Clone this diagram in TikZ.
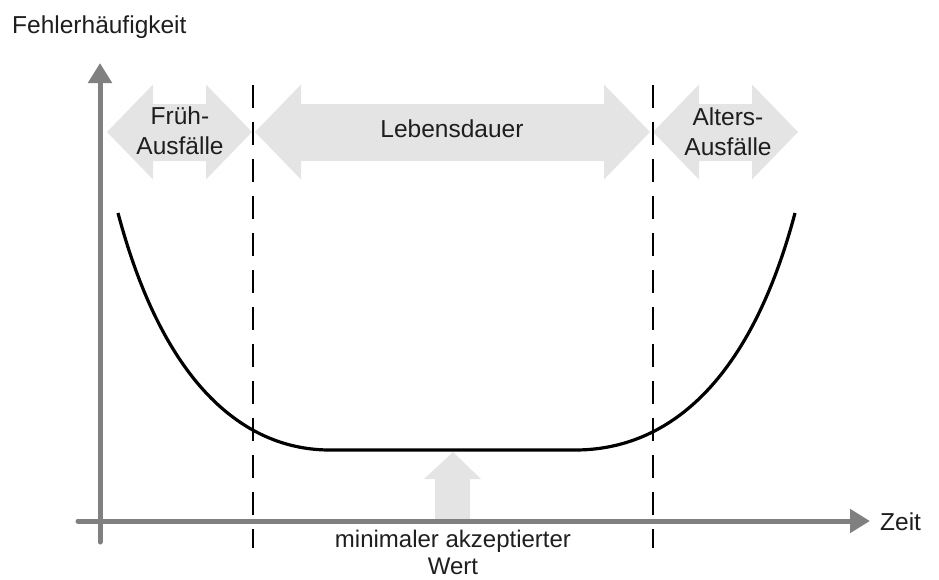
\documentclass[tikz,border=0pt]{standalone}
\usepackage{fontspec}
\setmainfont{Liberation Sans}
\usetikzlibrary{arrows.meta}
\definecolor{axisgray}{HTML}{808080}
\definecolor{bandgray}{HTML}{E4E4E4}
\definecolor{labelink}{HTML}{1E1E1E}
% wide two-headed band: left tip x, right tip x, head length
\newcommand\spanband[3]{%
  \fill[bandgray] (#1,132) -- (#1+#3,84.5) -- (#1+#3,104) -- (#2-#3,104)
    -- (#2-#3,84.5) -- (#2,132) -- (#2-#3,179.5) -- (#2-#3,161)
    -- (#1+#3,161) -- (#1+#3,179.5) -- cycle;}
\tikzset{
  axis/.style={draw=axisgray, line width=5pt, line cap=round,
    -{Triangle[length=20pt,width=23pt]}},
  phase/.style={draw=black, line width=1.1pt, dash pattern=on 23pt off 14pt},
  bathtub/.style={draw=black, line width=3.2pt},
  lbl/.style={text=labelink, font=\fontsize{24.5}{30}\selectfont, align=center, inner sep=0pt}
}
\begin{document}
\begin{tikzpicture}[x=1pt, y=-1pt]
\useasboundingbox (0,0) rectangle (939,579);

% phase bands
\spanband{107}{252}{46}
\spanband{255}{650}{46}
\spanband{653}{798}{46}

% marker for the minimum value
\fill[bandgray] (453,452) -- (481,479) -- (470,479) -- (470,519) -- (435,519)
  -- (435,479) -- (424,479) -- cycle;

% phase boundaries
\coordinate (b1top) at (253,85);  \coordinate (b1bot) at (253,548);
\coordinate (b2top) at (653,85);  \coordinate (b2bot) at (653,548);
\draw[phase] (b1top) -- (b1bot);
\draw[phase] (b2top) -- (b2bot);

% axes
\coordinate (ybot) at (100,542); \coordinate (ytop) at (100,63);
\coordinate (xleft) at (78,521); \coordinate (xright) at (870,521);
\draw[axis] (ybot) -- (ytop);
\draw[axis] (xleft) -- (xright);

% bathtub curve
\coordinate (c0) at (118,213);
\coordinate (c1) at (330,450);
\coordinate (c2) at (575,450);
\coordinate (c3) at (795,213);
\draw[bathtub] (c0) .. controls (165,390) and (248,450) .. (c1)
  -- (c2) .. controls (662,450) and (748,390) .. (c3);

% labels
\node[lbl, anchor=base west] (ylabel) at (12,33) {Fehlerhäufigkeit};
\node[lbl, anchor=base west] (xlabel) at (880,530) {Zeit};
\node[lbl] (early) at (180,131) {Früh-\\Ausfälle};
\node[lbl] (life) at (452,129) {Lebensdauer};
\node[lbl] (late) at (728,132) {Alters-\\Ausfälle};
\node[lbl, anchor=north, font=\fontsize{24}{27}\selectfont] (minval) at (453,530) {minimaler akzeptierter\\Wert};
\end{tikzpicture}
\end{document}
